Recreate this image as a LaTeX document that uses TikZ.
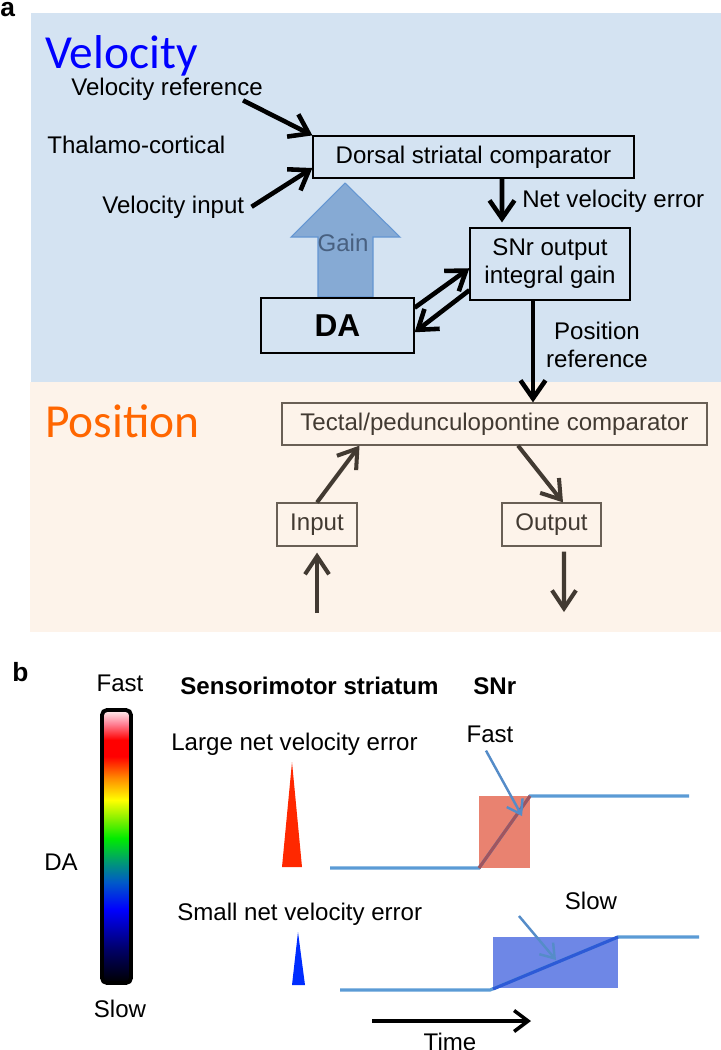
\documentclass[tikz,border=0pt]{standalone}
\usepackage{fontspec}
\setmainfont{Liberation Sans}
\newfontfamily\headfont{Carlito}
\usetikzlibrary{arrows.meta}

\definecolor{velbg}{RGB}{212,227,242}
\definecolor{posbg}{RGB}{253,243,234}
\definecolor{velblue}{RGB}{0,0,255}
\definecolor{posorange}{RGB}{255,102,0}
\definecolor{posink}{RGB}{66,58,50}
\definecolor{posline}{RGB}{105,95,85}
\definecolor{gainfill}{RGB}{134,170,212}
\definecolor{gainedge}{RGB}{100,150,210}
\definecolor{gaintext}{RGB}{72,96,128}
\definecolor{trace}{RGB}{91,155,213}
\definecolor{pointer}{RGB}{85,140,200}
\definecolor{fastbox}{RGB}{233,130,112}
\definecolor{fastdiag}{RGB}{160,85,95}
\definecolor{slowbox}{RGB}{110,135,230}
\definecolor{slowdiag}{RGB}{45,90,215}
\definecolor{spikered}{RGB}{255,40,0}
\definecolor{spikeblue}{RGB}{0,45,255}

% colour bar stops
\definecolor{barA}{RGB}{0,0,100}
\definecolor{barB}{RGB}{0,0,255}
\definecolor{barC}{RGB}{0,90,200}
\definecolor{barD}{RGB}{0,150,120}
\definecolor{barE}{RGB}{0,235,0}
\definecolor{barF}{RGB}{130,240,0}
\definecolor{barG}{RGB}{255,255,0}
\definecolor{barH}{RGB}{255,140,0}
\definecolor{barI}{RGB}{255,0,0}
\definecolor{barJ}{RGB}{255,130,150}
\definecolor{barK}{RGB}{255,242,242}
\pgfdeclareverticalshading{dabar}{100bp}{color(0bp)=(black); color(25bp)=(black);
  color(31bp)=(barA); color(38.5bp)=(barB); color(43.5bp)=(barC); color(47bp)=(barD);
  color(51.5bp)=(barE); color(55bp)=(barF); color(58.5bp)=(barG); color(62.5bp)=(barH);
  color(66.5bp)=(barI); color(69.5bp)=(barI); color(72.5bp)=(barJ); color(75bp)=(barK);
  color(100bp)=(barK)}

\begin{document}
\begin{tikzpicture}[x=0.2mm,y=-0.2mm,
  every node/.style={font=\fontsize{13.7}{15.9}\selectfont, inner sep=0pt},
  box/.style={draw, line width=0.7pt},
  posbox/.style={draw=posline, line width=0.7pt, text=posink},
  blkarrow/.style={-{Straight Barb[length=3.6mm,width=5mm]}, line width=2.6pt},
  posarrow/.style={-{Straight Barb[length=3.6mm,width=4.8mm]}, line width=2.3pt, draw=posink},
  bluearrow/.style={-{Straight Barb[length=2.6mm,width=3.6mm]}, line width=1.4pt, draw=pointer},
  tracelw/.style={line width=1.8pt}]

\useasboundingbox (0,0) rectangle (721,1050);

% panel a
\fill[velbg] (31,13) rectangle (721,382);
\fill[posbg] (30,382) rectangle (721,632);

\node[anchor=base west, font=\fontsize{15}{18}\selectfont\bfseries] (lbla) at (0,16) {a};
\node[anchor=base west, font=\headfont\fontsize{27}{32}\selectfont, text=velblue] (velhead) at (45,68) {Velocity};

\node[anchor=base west] (vref) at (71,95) {Velocity reference};
\node[anchor=base west] (thal) at (47,153) {Thalamo-cortical};
\node[anchor=base west] (vin) at (102,213) {Velocity input};

\node[box, minimum width=64.2mm, minimum height=8.4mm] (dorsal) at (473.5,157) {Dorsal striatal comparator};
\node[box, minimum width=32mm, minimum height=14.4mm, align=center] (snr) at (550,264) {SNr output\\integral gain};

\filldraw[fill=gainfill, draw=gainedge, line width=0.6pt] (318,297) -- (318,237) -- (291,237) -- (345,183)
  -- (400,237) -- (373,237) -- (373,297) -- cycle;
\node[text=gaintext] (gain) at (343,243) {Gain};

\node[box, minimum width=30.6mm, minimum height=11mm, font=\fontsize{18}{21}\selectfont\bfseries] (da) at (337.5,325.5) {DA};

\draw[blkarrow] ([xshift=-4mm]vref.south east) -- (dorsal.north west);
\draw[blkarrow] ([xshift=1.4mm]vin.east) -- ([yshift=-2.2mm]dorsal.west);
\draw[blkarrow, shorten >=1mm] ([xshift=5.7mm]dorsal.south) -- ([xshift=-9.6mm]snr.north);
\node[anchor=base west] (netlbl) at (522,207) {Net velocity error};

\draw[blkarrow] (da.13) -- (snr.183);
\draw[blkarrow] (snr.198) -- (da.-5);

% position
\node[anchor=base west, font=\headfont\fontsize{27}{32}\selectfont, text=posorange] (poshead) at (45,437) {Position};
\node[posbox, minimum width=85mm, minimum height=8.4mm] (tectal) at (494.5,424) {Tectal/pedunculopontine comparator};
\node[posbox, minimum width=16mm, minimum height=8.6mm] (input) at (317,524.5) {Input};
\node[posbox, minimum width=19.8mm, minimum height=8.6mm] (output) at (551.5,524.5) {Output};

\coordinate (posref) at ([xshift=-3.4mm]snr.south);
\draw[blkarrow] (posref) -- (posref |- tectal.north);
\node[align=center] (poslbl) at (597,345) {Position\\reference};

\coordinate (inbelow) at (317,613);
\coordinate (outbelow) at (564,612);
\draw[posarrow] (input.north) -- ([xshift=-27mm]tectal.south);
\draw[posarrow] ([xshift=4.7mm]tectal.south) -- ([xshift=2.3mm]output.north);
\draw[posarrow, shorten >=1.2mm] (inbelow) -- (input.south);
\draw[posarrow, shorten <=1mm] ([xshift=2.5mm]output.south) -- (outbelow);

% panel b
\node[anchor=base west, font=\fontsize{15}{18}\selectfont\bfseries] (lblb) at (12,681) {b};
\node[anchor=base] (barfast) at (120,691) {Fast};
\node[anchor=base] (barslow) at (120,1017) {Slow};
\node (barda) at (61,862) {DA};
\shadedraw[shading=dabar, line width=2.2pt, rounded corners=1mm] (102,710) rectangle (131,983);

\node[anchor=base west, font=\fontsize{13.7}{15.9}\selectfont\bfseries] (striatum) at (180,694) {Sensorimotor striatum};
\node[anchor=base west, font=\fontsize{13.7}{15.9}\selectfont\bfseries] (snrhead) at (473,694) {SNr};
\node[anchor=base west] (largelbl) at (171,750) {Large net velocity error};
\node[anchor=base west] (smalllbl) at (177,920) {Small net velocity error};

\fill[spikered] (282,867) -- (292,762) -- (302,867) -- cycle;
\fill[spikeblue] (292,985) -- (298,932) -- (305,985) -- cycle;

% fast step
\fill[fastbox] (479,796) rectangle (530,868);
\draw[trace, tracelw] (330,868) -- (479,868) -- (530,796) -- (689,796);
\draw[fastdiag, tracelw] (479,868) -- (530,796);
\node[anchor=base] (fastlbl) at (490,742) {Fast};
\coordinate (fastto) at (522,816);
\draw[bluearrow] ([xshift=-0.8mm,yshift=-1.6mm]fastlbl.south) -- (fastto);

% slow step
\fill[slowbox] (493,937) rectangle (618,988);
\draw[trace, tracelw] (340,990) -- (490,990) -- (618,937) -- (699,937);
\draw[slowdiag, tracelw] (493,989) -- (618,937);
\node[anchor=base] (slowlbl) at (591,909) {Slow};
\coordinate (slowfrom) at (519,916);
\coordinate (slowto) at (556,960);
\draw[bluearrow] (slowfrom) -- (slowto);

\coordinate (tstart) at (372,1021);
\coordinate (tend) at (531,1021);
\draw[-{Straight Barb[length=2.8mm,width=4.2mm]}, line width=2pt] (tstart) -- (tend);
\node[anchor=base] (timelbl) at (450,1050) {Time};

\end{tikzpicture}
\end{document}
